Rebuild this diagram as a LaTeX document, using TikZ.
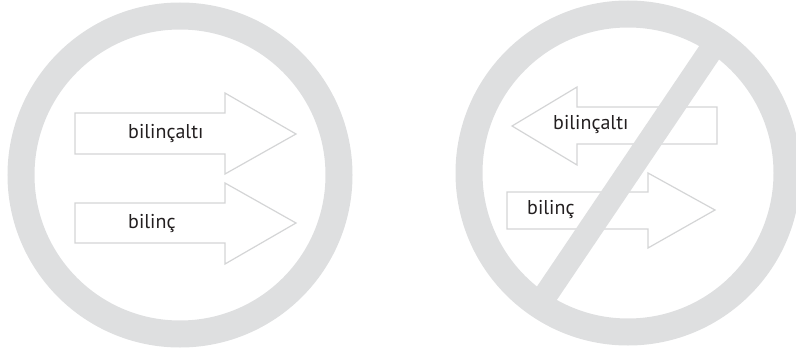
\documentclass[tikz,border=0pt]{standalone}
\usepackage{fontspec}
\setmainfont{PT Sans}
\usepackage{tikz}
\usetikzlibrary{calc}
\definecolor{RingGrey}{HTML}{DEDFE0}
\definecolor{ArrowEdge}{HTML}{D4D5D6}
\definecolor{Ink}{HTML}{231F20}

\begin{document}
\begin{tikzpicture}[x=1pt, y=-1pt, ring/.style={draw=RingGrey,line width=27pt}, arrowedge/.style={draw=ArrowEdge,line width=1.2pt,fill=white}, every node/.style={font=\fontsize{20}{24}\selectfont,text=Ink,inner sep=0pt,anchor=west}]
    \useasboundingbox (0,0) rectangle (796,356);
    \coordinate (allowed) at (180,175);
    \coordinate (banned) at (628,173);
    \draw[ring] (allowed) circle[radius=159];
    \draw[ring] (banned) circle[radius=159];
    \draw[arrowedge] (75,113) -- (225,113) -- (225,93) -- (296,134) -- (225,174) -- (225,154) -- (75,154) -- cycle;
    \draw[arrowedge] (75,203) -- (225,203) -- (225,183) -- (296,223) -- (225,264) -- (225,243) -- (75,243) -- cycle;
    \draw[arrowedge] (717,107) -- (577,107) -- (577,87) -- (512,126) -- (577,165) -- (577,144) -- (717,144) -- cycle;
    \draw[arrowedge] (507,192) -- (648,192) -- (648,173) -- (715,210) -- (648,248) -- (648,229) -- (507,229) -- cycle;
    \node (allowedtop) at (128,133) {bilinçaltı};
    \node (allowedbottom) at (128,223) {bilinç};
    \node (bannedtop) at (553,124) {bilinçaltı};
    \node (bannedbottom) at (527,209) {bilinç};
    \draw[RingGrey,line width=24pt] ($(banned)+(124:150)$) -- ($(banned)+(-56:150)$);
\end{tikzpicture}
\end{document}
